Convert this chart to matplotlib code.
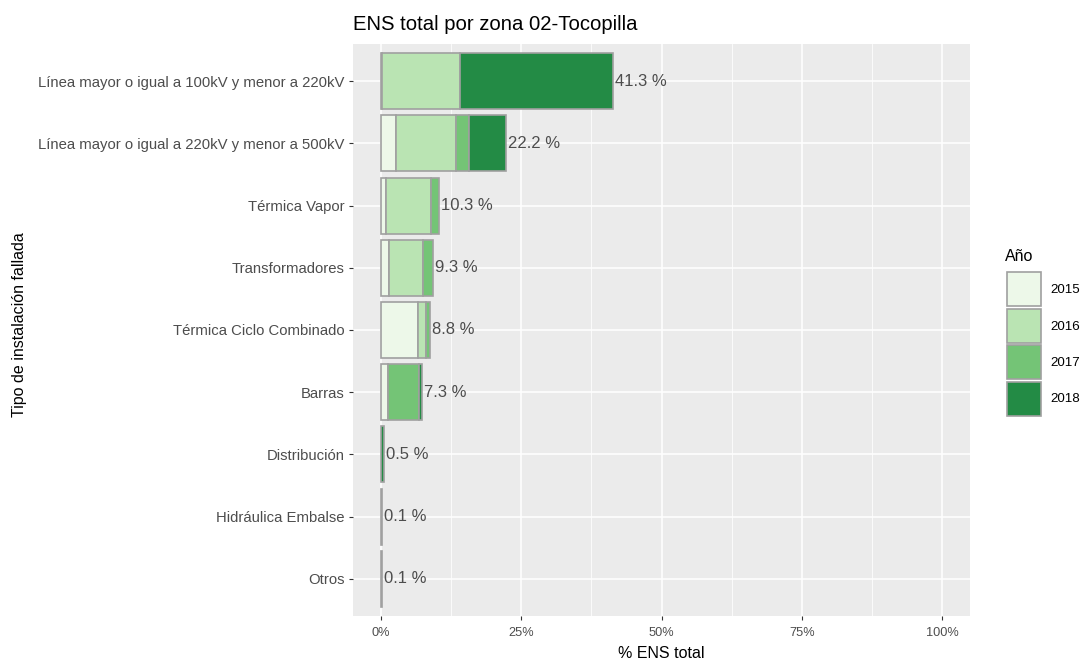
import matplotlib
matplotlib.use("Agg")
import matplotlib.pyplot as plt
from matplotlib.patches import Rectangle
import numpy as np

plt.rcParams['font.family'] = ['Liberation Sans', 'DejaVu Sans']

categories = [
    "Línea mayor o igual a 100kV y menor a 220kV",
    "Línea mayor o igual a 220kV y menor a 500kV",
    "Térmica Vapor",
    "Transformadores",
    "Térmica Ciclo Combinado",
    "Barras",
    "Distribución",
    "Hidráulica Embalse",
    "Otros",
]
years = ["2015", "2016", "2017", "2018"]
pct_2015 = [0.2, 2.6, 0.8, 1.5, 6.6, 1.2, 0.0, 0.1, 0.1]
pct_2016 = [13.8, 10.8, 8.1, 6.0, 1.4, 0.0, 0.0, 0.0, 0.0]
pct_2017 = [0.0, 2.3, 1.4, 1.8, 0.8, 5.6, 0.0, 0.0, 0.0]
pct_2018 = [27.3, 6.5, 0.0, 0.0, 0.0, 0.5, 0.5, 0.0, 0.0]
x_ticks = [0, 25, 50, 75, 100]
x_tick_labels = ["0%", "25%", "50%", "75%", "100%"]

colors = ["#EDF8E9", "#BAE4B3", "#74C476", "#238B45"]
edge = "#A0A0A0"
series = [pct_2015, pct_2016, pct_2017, pct_2018]

W, H = 1087, 669
fig = plt.figure(figsize=(W / 100, H / 100), dpi=100)
px_l, px_r, px_t, px_b = 353, 970, 44, 616
ax = fig.add_axes([px_l / W, 1 - px_b / H, (px_r - px_l) / W, (px_b - px_t) / H])
ax.set_facecolor("#EBEBEB")

n = len(categories)
ypos = np.arange(n)[::-1]  # first category on top

left = np.zeros(n)
for vals, col in zip(series, colors):
    vals = np.array(vals)
    mask = vals > 0
    ax.barh(ypos[mask], vals[mask], left=left[mask], height=0.9,
            color=col, edgecolor=edge, linewidth=1.2, zorder=3)
    left += vals

totals = left
for y, t in zip(ypos, totals):
    ax.text(t + 0.35, y, f"{t:.1f} %", ha="left", va="center",
            fontsize=12, color="#4D4D4D", zorder=4)

ax.set_xlim(-5, 105)
ax.set_ylim(-0.6, n - 1 + 0.6)
ax.set_xticks(x_ticks)
ax.set_xticklabels(x_tick_labels)
ax.set_xticks([12.5, 37.5, 62.5, 87.5], minor=True)
ax.set_yticks(ypos)
ax.set_yticklabels(categories)

ax.grid(True, which="major", color="white", linewidth=1.1, zorder=0)
ax.grid(True, which="minor", axis="x", color="white", linewidth=0.55, zorder=0)
ax.set_axisbelow(True)
for s in ax.spines.values():
    s.set_visible(False)
ax.tick_params(axis="both", which="major", colors="#333333", length=3,
               width=0.8, labelcolor="#4D4D4D", pad=3)
ax.tick_params(axis="y", labelsize=10.7)
ax.tick_params(axis="x", labelsize=9.2, pad=5)
ax.tick_params(axis="x", which="minor", length=0)

ax.set_xlabel("% ENS total", fontsize=11.5, color="black", labelpad=5)
fig.text(20 / W, 1 - 325 / H, "Tipo de instalación fallada", rotation=90,
         ha="center", va="center", fontsize=11.5, color="black")
fig.text(px_l / W, 1 - 30 / H, "ENS total por zona 02-Tocopilla",
         ha="left", va="baseline", fontsize=14.6, color="black")

# legend drawn in figure pixel coordinates
fig.text(1005 / W, 1 - 256 / H, "Año", ha="left", va="center",
         fontsize=11.5, color="black")
key_w, key_h, key_step, key_top = 34, 34, 36.5, 272
for i, (yr, col) in enumerate(zip(years, colors)):
    top = key_top + i * key_step
    fig.add_artist(Rectangle((1006.5 / W, 1 - (top + key_h) / H), key_w / W, key_h / H,
                             transform=fig.transFigure, facecolor=col,
                             edgecolor=edge, linewidth=1.2))
    fig.text(1050 / W, 1 - (top + key_h / 2 + 1) / H, yr, ha="left", va="center",
             fontsize=9.6, color="black")

fig.savefig("out.png", dpi=100)
